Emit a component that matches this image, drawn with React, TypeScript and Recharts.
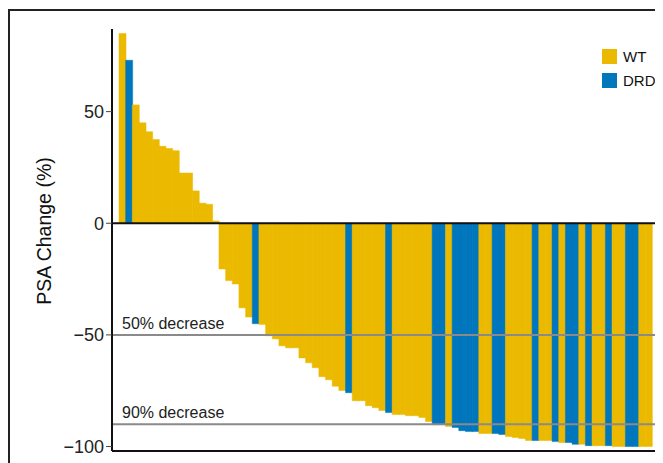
import { BarChart, Bar, Cell, XAxis, YAxis, ReferenceLine } from 'recharts';

// PSA change from baseline (%) per patient, sorted (waterfall)
const psaChange = [
  85, 73, 53, 45, 41, 37.5, 34.5, 33.5, 32.5, 22.5, 22.5, 14.5, 9, 8.5, 1,
  -20.5, -25.7, -27.2, -37.9, -42, -45, -45.3, -50.4, -51.8, -54.9, -55.8, -55.8, -60.3, -62.5, -64.7, -68.7,
  -70.1, -73, -74.9, -75.9, -79.5, -79.5, -81.7, -82.6, -83.9, -84.8, -85.7, -85.7, -86.2, -86.2, -87, -88.8,
  -90.2, -90.2, -91, -91.5, -92.9, -93.3, -93.3, -94.2, -94.2, -94.2, -94.6, -95.5, -96, -96.4, -97.3, -97.3, -97.3, -97.3,
  -97.8, -98.2, -98.2, -99, -99, -99.6, -99.6, -99.6, -99.6, -100, -100, -100, -100, -100, -100,
];

const genotype = [
  'WT', 'DRD', 'WT', 'WT', 'WT', 'WT', 'WT', 'WT', 'WT', 'WT', 'WT', 'WT', 'WT', 'WT', 'WT',
  'WT', 'WT', 'WT', 'WT', 'WT', 'DRD', 'WT', 'WT', 'WT', 'WT', 'WT', 'WT', 'WT', 'WT', 'WT', 'WT',
  'WT', 'WT', 'WT', 'DRD', 'WT', 'WT', 'WT', 'WT', 'WT', 'DRD', 'WT', 'WT', 'WT', 'WT', 'WT', 'WT',
  'DRD', 'DRD', 'WT', 'DRD', 'DRD', 'DRD', 'DRD', 'WT', 'WT', 'DRD', 'DRD', 'WT', 'WT', 'WT', 'WT', 'DRD', 'WT', 'WT',
  'DRD', 'WT', 'DRD', 'DRD', 'WT', 'DRD', 'WT', 'WT', 'DRD', 'WT', 'WT', 'DRD', 'DRD', 'WT', 'WT',
];

const groups = ['WT', 'DRD'];
const yTicks = [-100, -50, 0, 50];
const thresholds = [
  { y: -50, label: '50% decrease' },
  { y: -90, label: '90% decrease' },
];

const COLORS: Record<string, string> = { WT: '#EBBA00', DRD: '#0076BD' };
const FONT = '"Liberation Sans", Arial, sans-serif';

const data = psaChange.map((v, i) => ({ id: i + 1, value: v, group: genotype[i] }));

function GroupLegend() {
  return (
    <div style={{
      position: 'absolute', left: 594, top: 36, width: 69, whiteSpace: 'nowrap',
      fontFamily: FONT, fontSize: 15, color: '#111',
    }}>
      {groups.map((g) => (
        <div key={g} style={{ display: 'flex', alignItems: 'center', height: 24 }}>
          <span style={{ width: 15, height: 15, flexShrink: 0, background: COLORS[g], marginRight: 6 }} />
          <span>{g}</span>
        </div>
      ))}
    </div>
  );
}

function ThresholdLabel(props: any) {
  const { viewBox, value } = props;
  return (
    <text x={viewBox.x + 10} y={viewBox.y - 6} fontFamily={FONT} fontSize={16} fill="#222">
      {value}
    </text>
  );
}

function AxisTitle(props: any) {
  const { viewBox } = props;
  const cx = 36;
  const cy = viewBox.y + viewBox.height / 2 - 9;
  return (
    <text x={cx} y={cy} transform={`rotate(-90, ${cx}, ${cy})`} textAnchor="middle"
      dominantBaseline="central" fontFamily={FONT} fontSize={19.5} fill="#111">
      PSA Change (%)
    </text>
  );
}

export default function App() {
  return (
    <div style={{ position: 'relative', width: 655, height: 455 }}>
      <style>{'html, body { overflow: hidden; }'}</style>
      <div style={{
        position: 'absolute', left: 0, top: 1, width: 655, height: 455,
        borderTop: '2px solid #222', borderLeft: '2px solid #222', boxSizing: 'border-box',
      }} />
      <div style={{ position: 'absolute', left: 0, top: 0 }}>
        <BarChart width={655} height={455} data={data} barCategoryGap={0}
          margin={{ top: 21, right: 7, bottom: 11, left: 0 }}>
          <XAxis dataKey="id" tick={false} tickLine={false} height={1}
            padding={{ left: 7, right: 4 }} axisLine={{ stroke: '#111', strokeWidth: 2 }} />
          <YAxis width={104} domain={[-102, 87]} ticks={yTicks} allowDataOverflow
            tickSize={6} tickLine={{ stroke: '#444' }} axisLine={{ stroke: '#111', strokeWidth: 2 }}
            tick={{ fontFamily: FONT, fontSize: 18, fill: '#222' }}
            tickFormatter={(v: number) => String(v).replace('-', '\u2212')}
            label={<AxisTitle />} />
          <Bar dataKey="value" isAnimationActive={false}>
            {data.map((d, i) => (
              <Cell key={`c-${i}`} fill={COLORS[d.group]} stroke={COLORS[d.group]} strokeWidth={0.5} />
            ))}
          </Bar>
          <ReferenceLine y={0} stroke="#111" strokeWidth={2} />
          {thresholds.map((t) => (
            <ReferenceLine key={t.y} y={t.y} stroke="#8a8a8a" strokeWidth={2}
              label={<ThresholdLabel value={t.label} />} />
          ))}
        </BarChart>
      </div>
      <GroupLegend />
    </div>
  );
}
